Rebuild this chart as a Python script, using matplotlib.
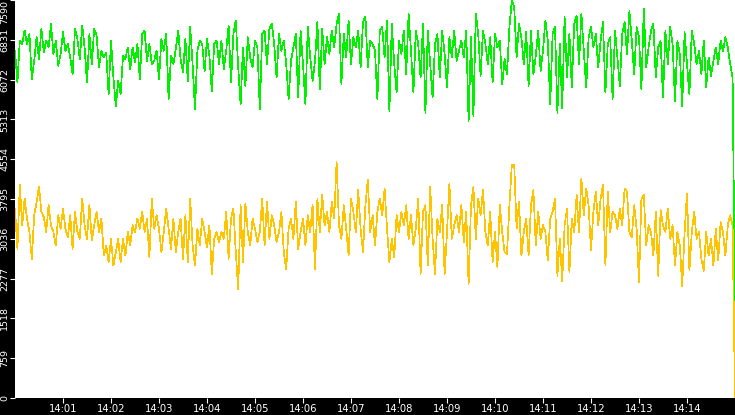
import numpy as np
import matplotlib
matplotlib.use("Agg")
from matplotlib import pyplot as plt

# sampled every 3 s from 14:00:00, last point at 14:15:00
green = [
    6623, 6015, 6815, 6751, 7007, 6751, 6943, 6079, 6431, 6879,
    6463, 7039, 6591, 6815, 6687, 7136, 6559, 6815, 6335, 6559,
    6975, 6623, 6751, 6495, 6175, 7039, 6847, 6463, 7104, 6687,
    6015, 6943, 6367, 7039, 6911, 6303, 6623, 6495, 6591, 5791,
    6815, 6111, 5566, 6047, 5791, 6527, 6463, 6687, 6271, 6687,
    6399, 6751, 6079, 6943, 7007, 6431, 6751, 6367, 6431, 6623,
    6079, 6847, 6623, 6943, 5695, 6527, 6367, 6655, 7007, 6463,
    6207, 6847, 6047, 7072, 6367,
    5502, 6623, 6815, 6751, 6239, 6847, 6527, 5855, 6751, 6815,
    6367, 6815, 6271, 6623, 7104, 6015, 6943, 7200, 6303, 5598,
    6687, 5951, 6879, 6495, 6303, 6815, 6687, 5502, 6943, 7007,
    6367, 7039, 7136, 6751, 6111, 6943, 6623, 6815, 6367, 5695,
    6431, 6687, 6943, 5727, 7007, 6367, 5598, 7084, 6495, 6047,
    6431, 7168, 5887, 7039, 6367, 6879, 6559, 7007, 6687, 7136,
    7328, 5983, 6943, 6495, 7200, 6367, 6879, 6687, 7007, 6303,
    7168, 7277, 6303, 6815, 6751,
    6623, 5695, 7007, 7072, 6495, 7200, 5470, 7136, 6367, 5823,
    6815, 6559, 7007, 6175, 7328, 6623, 5823, 7007, 6751, 6111,
    7136, 5438, 7007, 6367, 5727, 6751, 6943, 6111, 7007, 6559,
    5919, 6879, 6495, 7007, 6431, 6623, 6815, 6495, 7007, 5278,
    6879, 5374, 7328, 6943, 6143, 7007, 6751, 6367, 6879, 6015,
    6943, 6687, 6815, 5983, 6463, 6175, 7072, 7584, 7456, 6495,
    7136, 6879, 6367, 6975, 5951, 7007, 6175, 6527, 7007, 6239,
    6623, 7200, 6815, 5598, 6943,
    7072, 5438, 6751, 5534, 7264, 6111, 6943, 5919, 7136, 7296,
    6367, 7328, 6623, 5919, 6879, 7072, 6687, 6943, 6303, 6815,
    7168, 5823, 6751, 6879, 5695, 7007, 6495, 5951, 6943, 7168,
    6559, 7379, 6815, 6175, 7072, 6879, 5887, 7424, 6303, 6687,
    7007, 7136, 6111, 6687, 6815, 5727, 7007, 6367, 7072, 6751,
    5662, 6815, 6559, 5566, 6975, 6367, 5791, 7007, 6751, 6367,
    6623, 6175, 6815, 5919, 6495, 6143, 6431, 6687, 6367, 6815,
    6623, 6879, 6687, 6367, 6111,
    1658,
]

yellow = [
    3613, 2844, 4061, 3293, 3805, 3421, 3165, 2652, 3485, 3741,
    4029, 3549, 3453, 3165, 3677, 3293, 3165, 2908, 3485, 3229,
    3613, 3229, 3068, 3485, 2844, 3549, 3165, 3036, 3805, 3293,
    3036, 3677, 3004, 3293, 3549, 3165, 3421, 2716, 2908, 2588,
    3036, 2524, 2780, 3036, 2588, 3036, 2716, 3165, 2908, 3293,
    3165, 3421, 3229, 3549, 3165, 3421, 2684, 3805, 3229, 3485,
    3229, 2780, 3165, 3613, 3229, 2844, 3421, 2780, 3165, 3421,
    2652, 3485, 2588, 3805, 2908,
    2524, 3229, 2908, 3421, 3165, 2876, 3293, 2364, 3036, 3165,
    2972, 3165, 3036, 3549, 2652, 3421, 3613, 2780, 2076, 3677,
    2588, 3709, 3165, 2908, 3421, 3229, 2972, 3165, 3805, 2908,
    3741, 3036, 3485, 3293, 2972, 3165, 3549, 2780, 2460, 3229,
    3421, 3036, 3741, 2844, 3165, 3421, 2908, 3485, 3165, 3677,
    2460, 3805, 3165, 3869, 3293, 3549, 3165, 3741, 3421, 4510,
    3293, 3036, 3677, 3229, 2716, 3805, 3549, 3165, 3965, 3229,
    2780, 3677, 4157, 3165, 3485,
    2908, 3549, 3805, 3485, 3997, 3229, 2588, 3036, 2684, 3485,
    3165, 3549, 3293, 3677, 3036, 3485, 2908, 3229, 3805, 2364,
    3549, 3677, 2524, 4029, 3036, 2364, 3421, 3165, 3677, 2364,
    3165, 4093, 3036, 3293, 3485, 3165, 3677, 2972, 3549, 2172,
    3677, 4029, 3036, 3805, 3485, 3965, 3165, 2908, 3549, 2588,
    3165, 2492, 3677, 3165, 2780, 2748, 3677, 4446, 4446, 3229,
    3741, 2716, 3165, 3421, 2716, 3677, 3965, 2908, 3549, 3036,
    3293, 3165, 2620, 3421, 3549,
    3805, 2332, 3036, 2236, 3293, 3613, 2396, 3421, 3165, 3869,
    3165, 4189, 3485, 3997, 3677, 2812, 3549, 3933, 3293, 3805,
    4061, 2524, 3933, 3165, 3549, 3485, 3229, 3613, 3293, 3997,
    3933, 3165, 3068, 3677, 3229, 2204, 3805, 3869, 2908, 3293,
    3165, 2716, 3549, 2332, 3581, 3293, 3165, 3613, 3036, 3293,
    2524, 3165, 2908, 2140, 3165, 3901, 2428, 3165, 3549, 3036,
    3165, 2652, 2428, 3165, 2716, 3036, 2524, 3229, 2620, 3357,
    3165, 2716, 3293, 3485, 3293,
    0,
]

y_ticks = [0, 759, 1518, 2277, 3036, 3795, 4554, 5313, 6072, 6831, 7590]
x_labels = ['14:01', '14:02', '14:03', '14:04', '14:05', '14:06', '14:07',
            '14:08', '14:09', '14:10', '14:11', '14:12', '14:13', '14:14']
step = 3  # seconds per sample

secs = np.arange(len(green)) * step

fig = plt.figure(figsize=(7.35, 4.15), dpi=100, facecolor='black')
ax = fig.add_axes([15 / 735, 17 / 415, 720 / 735, 398 / 415])
ax.set_facecolor('white')

# hard-edged 1px traces
ax.plot(secs, green, color='#00f000', lw=0.5, antialiased=False)
ax.plot(secs, yellow, color='#ffc400', lw=0.5, antialiased=False)

ax.set_xlim(0, 900)
ax.set_ylim(0, 7590)
for s in ax.spines.values():
    s.set_visible(False)

ax.set_xticks([60 * (i + 1) for i in range(len(x_labels))])
ax.set_xticklabels(x_labels)
ax.set_yticks(y_ticks)
ax.set_yticklabels([str(v) for v in y_ticks], rotation=90, va='center',
                   family=['Liberation Sans Narrow', 'DejaVu Sans'])
ax.tick_params(colors='white', length=3.6, width=0.8, labelsize=6.8, pad=0.5)
ax.tick_params(axis='x', labelsize=7.2)
# top label would go off the figure
ax.get_yticklabels()[-1].set_va('top')

fig.savefig('out.png', dpi=100, facecolor='black')
